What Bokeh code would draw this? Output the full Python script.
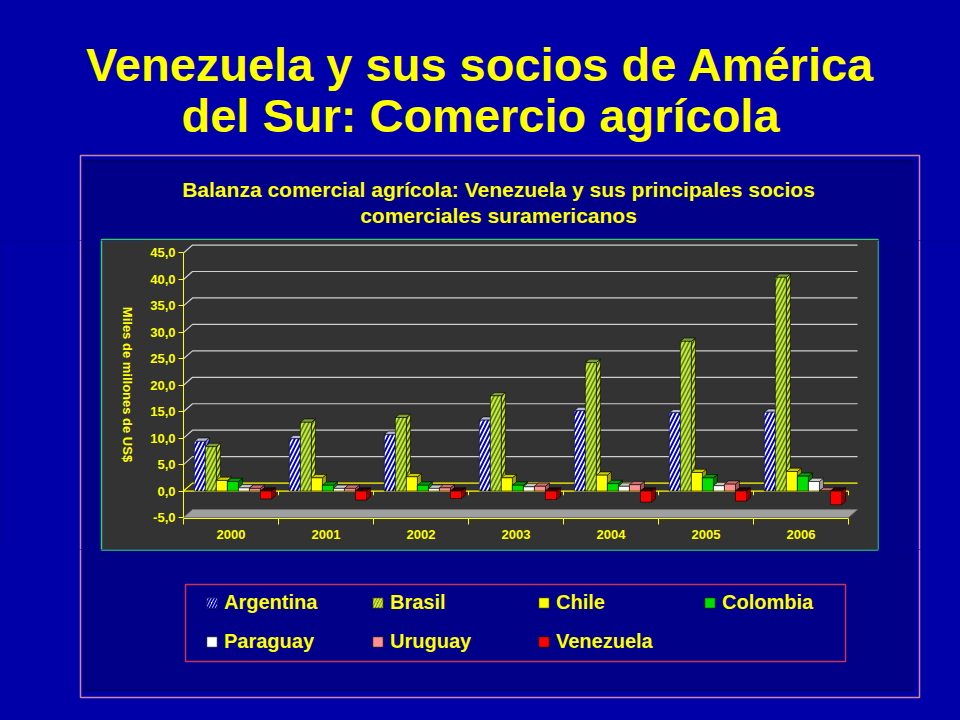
import numpy as np
from bokeh.plotting import figure
from bokeh.layouts import column, row
from bokeh.models import Range1d, FixedTicker, BoxAnnotation, Label, Legend, LegendItem
from bokeh.embed import file_html
from bokeh.resources import INLINE

# ---------------- data ----------------
years = ["2000", "2001", "2002", "2003", "2004", "2005", "2006"]
countries = ["Argentina", "Brasil", "Chile", "Colombia", "Paraguay", "Uruguay", "Venezuela"]
argentina = [9.4, 9.9, 10.7, 13.4, 15.2, 14.8, 14.9]
brasil = [8.4, 13.0, 13.9, 18.0, 24.3, 28.3, 40.4]
chile = [2.0, 2.5, 2.7, 2.5, 3.0, 3.5, 3.7]
colombia = [1.8, 1.1, 1.1, 1.1, 1.4, 2.5, 2.8]
paraguay = [0.6, 0.5, 0.5, 0.8, 0.9, 1.0, 1.8]
uruguay = [0.5, 0.5, 0.6, 0.9, 1.2, 1.3, 0.0]
venezuela = [-1.5, -1.7, -1.4, -1.6, -2.1, -1.9, -2.6]
y_ticks = [-5, 0, 5, 10, 15, 20, 25, 30, 35, 40, 45]
title_lines = ["Venezuela y sus socios de América", "del Sur: Comercio agrícola"]
subtitle_lines = ["Balanza comercial agrícola: Venezuela y sus principales socios",
                  "comerciales suramericanos"]
y_label = "Miles de millones de US$"

series = [argentina, brasil, chile, colombia, paraguay, uruguay, venezuela]

# ---------------- styles ----------------
YEL = "#FFFF00"
BG = "#0000A8"
NAVY = "#000088"
GRAY = "#333333"
FONT = "Liberation Sans"
styles = [
    dict(fill="#FFFFFF", top="#B8B8D8", side="#9090C0", hatch="/", hcol="#0000CC"),
    dict(fill="#3C8C28", top="#7FA030", side="#2C5C18", hatch="/", hcol="#E0E030"),
    dict(fill="#FFFF00", top="#CCCC00", side="#A0A000", hatch=None, hcol=None),
    dict(fill="#00E000", top="#00A000", side="#007800", hatch=None, hcol=None),
    dict(fill="#FFFFFF", top="#C8C8C8", side="#A0A0A0", hatch=None, hcol=None),
    dict(fill="#FF9090", top="#C87070", side="#A05858", hatch=None, hcol=None),
    dict(fill="#FF0000", top="#300000", side="#900000", hatch=None, hcol=None),
]


def hatch_kw(st, scale=8):
    if st["hatch"]:
        return dict(hatch_pattern=st["hatch"], hatch_color=st["hcol"], hatch_scale=scale, hatch_weight=2)
    return {}


def no_align(f):
    if "frame_align" in f.properties():
        f.frame_align = False


# page layout (pixels)
W, H = 960, 720
TOP_H = 240          # top strip height
MID_H = 309          # chart row height
LEFT_W = 143
CHART_W = 734
RIGHT_W = W - LEFT_W - CHART_W
BOT_H = H - TOP_H - MID_H

# decorative boxes in page pixels: left, right, top, bottom, fill, line, width
BOXES = [
    (80, 919, 155, 697, BG, "#D08898", 1.5),
    (84, 912, 160, 690, NAVY, "#000060", 1.5),
    (101, 877.5, 239, 549.5, GRAY, "#33CC66", 1.5),
    (185, 845, 584, 661, NAVY, "#CC3355", 1.5),
]


def blank(w, h, ox, oy, css_bg):
    f = figure(width=w, height=h, output_backend="svg", toolbar_location=None,
               x_range=Range1d(0, 1), y_range=Range1d(0, 1),
               x_axis_location=None, y_axis_location=None, min_border=0,
               background_fill_color=BG, border_fill_color=BG,
               styles={"background-color": css_bg})
    f.outline_line_color = None
    f.grid.visible = False
    no_align(f)
    for (l, r, t, b, fill, line, lw) in BOXES:
        f.add_layout(BoxAnnotation(left=l - ox, right=r - ox, top=t - oy, bottom=b - oy,
                                   left_units="canvas", right_units="canvas",
                                   top_units="canvas", bottom_units="canvas",
                                   fill_color=fill, fill_alpha=1.0, line_color=line,
                                   line_alpha=1.0, line_width=lw, level="image"))
    return f


def lab(f, text, x, y, size, ox, oy, angle=0.0):
    # y is the visual middle of the text line (page pixels)
    f.add_layout(Label(x=x - ox, y=y - oy, x_units="canvas", y_units="canvas", text=text,
                       text_color=YEL, text_font=FONT, text_font_style="bold",
                       text_font_size=size, text_align="center", text_baseline="middle",
                       angle=angle))


# ---------------- top strip: titles ----------------
top_fig = blank(W, TOP_H, 0, 0, BG)
lab(top_fig, title_lines[0], 480, 64, "47px", 0, 0)
lab(top_fig, title_lines[1], 480, 115, "47px", 0, 0)
lab(top_fig, subtitle_lines[0], 498, 189, "21px", 0, 0)
lab(top_fig, subtitle_lines[1], 498, 215, "21px", 0, 0)

# ---------------- left strip: y axis title ----------------
left_fig = blank(LEFT_W, MID_H, 0, TOP_H, NAVY)
lab(left_fig, y_label, 127, 384, "13px", 0, TOP_H, angle=-np.pi / 2)

# ---------------- right strip ----------------
right_fig = blank(RIGHT_W, MID_H, LEFT_W + CHART_W, TOP_H, NAVY)

# ---------------- chart ----------------
BW = 0.116               # bar width (category units)
DXB, DYB = 0.042, 0.62   # bar depth
DXG, DYG = 0.095, 1.5    # wall depth
n = len(years)
x0, x1 = -0.5, n - 0.5

p = figure(width=CHART_W, height=MID_H, output_backend="svg", toolbar_location=None,
           x_range=Range1d(x0, x1 + 14 / 95), y_range=Range1d(-5.19, 47.36),
           min_border_left=40, min_border_right=15, min_border_top=0, min_border_bottom=31,
           background_fill_color=GRAY, border_fill_color=GRAY,
           styles={"background-color": GRAY})
p.outline_line_color = None
p.xgrid.visible = False
p.ygrid.visible = False
no_align(p)

# back wall grid lines
gticks = [t for t in y_ticks if t > y_ticks[0]]
p.multi_line([[x0, x0 + DXG, x1 + DXG] for t in gticks],
             [[t, t + DYG, t + DYG] for t in gticks],
             line_color=[YEL if t == 0 else "#D0D0D0" for t in gticks], line_width=1.2)

# floor
fl = y_ticks[0]
p.patch([x0, x1, x1 + DXG, x0 + DXG], [fl, fl, fl + DYG, fl + DYG],
        fill_color="#A0A0A0", line_color="#707070", line_width=1)

# front zero line with small category ticks
p.line([x0, x1], [0, 0], line_color=YEL, line_width=1.2)
p.segment(x0=[i - 0.5 for i in range(1, n + 1)], y0=[0] * n,
          x1=[i - 0.5 for i in range(1, n + 1)], y1=[-0.8] * n, line_color=YEL, line_width=1)

# bars (pseudo 3D)
gx = np.arange(n)
for i, (vals, st) in enumerate(zip(series, styles)):
    v = np.array(vals, dtype=float)
    xc = gx + (i - 3) * BW + 0.02
    top = np.maximum(v, 0)
    bot = np.minimum(v, 0)
    xl = xc - BW / 2
    xr = xc + BW / 2
    side_xs = [[a, a + DXB, a + DXB, a] for a in xr]
    side_ys = [[b, b + DYB, t + DYB, t] for b, t in zip(bot, top)]
    top_xs = [[l, l + DXB, r + DXB, r] for l, r in zip(xl, xr)]
    top_ys = [[t, t + DYB, t + DYB, t] for t in top]
    p.patches(side_xs, side_ys, fill_color=st["side"], line_color="black", line_width=0.6, **hatch_kw(st))
    p.patches(top_xs, top_ys, fill_color=st["top"], line_color="black", line_width=0.6)
    p.vbar(x=xc, width=BW, top=top, bottom=bot, fill_color=st["fill"],
           line_color="black", line_width=0.6, **hatch_kw(st))

# axes
ya = p.yaxis[0]
ya.ticker = FixedTicker(ticks=y_ticks, minor_ticks=[])
ya.major_label_overrides = {t: f"{t:.1f}".replace(".", ",") for t in y_ticks}
ya.bounds = (y_ticks[0], y_ticks[-1])
ya.axis_line_color = YEL
ya.major_tick_line_color = YEL
ya.major_tick_out = 5
ya.major_tick_in = 0
ya.minor_tick_line_color = None
ya.major_label_text_color = YEL
ya.major_label_text_font = FONT
ya.major_label_text_font_style = "bold"
ya.major_label_text_font_size = "13px"
ya.major_label_standoff = 3

xa = p.xaxis[0]
xa.ticker = FixedTicker(ticks=list(range(n)), minor_ticks=[i - 0.5 for i in range(n + 1)])
xa.major_label_overrides = {i: y for i, y in enumerate(years)}
xa.bounds = (x0, x1)
xa.axis_line_color = YEL
xa.major_tick_line_color = None
xa.major_tick_out = 0
xa.major_tick_in = 0
xa.minor_tick_line_color = YEL
xa.minor_tick_out = 6
xa.minor_tick_in = 0
xa.major_label_text_color = YEL
xa.major_label_text_font = FONT
xa.major_label_text_font_style = "bold"
xa.major_label_text_font_size = "13px"
xa.major_label_standoff = 5

# ---------------- bottom strip: legend ----------------
bot_fig = blank(W, BOT_H, 0, TOP_H + MID_H, BG)
leg_r = []
for st in styles:
    # zero-size proxy renderers so the legend can show each series' swatch
    leg_r.append(bot_fig.vbar(x=[0], top=[0], bottom=[0], width=0, fill_color=st["fill"],
                              line_color="black", line_width=0.6, **hatch_kw(st, scale=6)))
legend = Legend(items=[LegendItem(label=c, renderers=[r]) for c, r in zip(countries, leg_r)],
                location=(205, 67.5), orientation="horizontal", ncols=4,
                background_fill_alpha=0, border_line_color=None, padding=0, margin=0,
                spacing=16, glyph_width=13, glyph_height=13, label_height=23, label_width=131,
                label_standoff=6, label_text_color=YEL, label_text_font=FONT,
                label_text_font_style="bold", label_text_font_size="20px",
                label_text_baseline="middle")
bot_fig.add_layout(legend, "center")

layout = column(top_fig, row(left_fig, p, right_fig, styles={"background-color": GRAY}),
                bot_fig, styles={"background-color": BG})
open("out.html", "w").write(file_html(layout, INLINE))
